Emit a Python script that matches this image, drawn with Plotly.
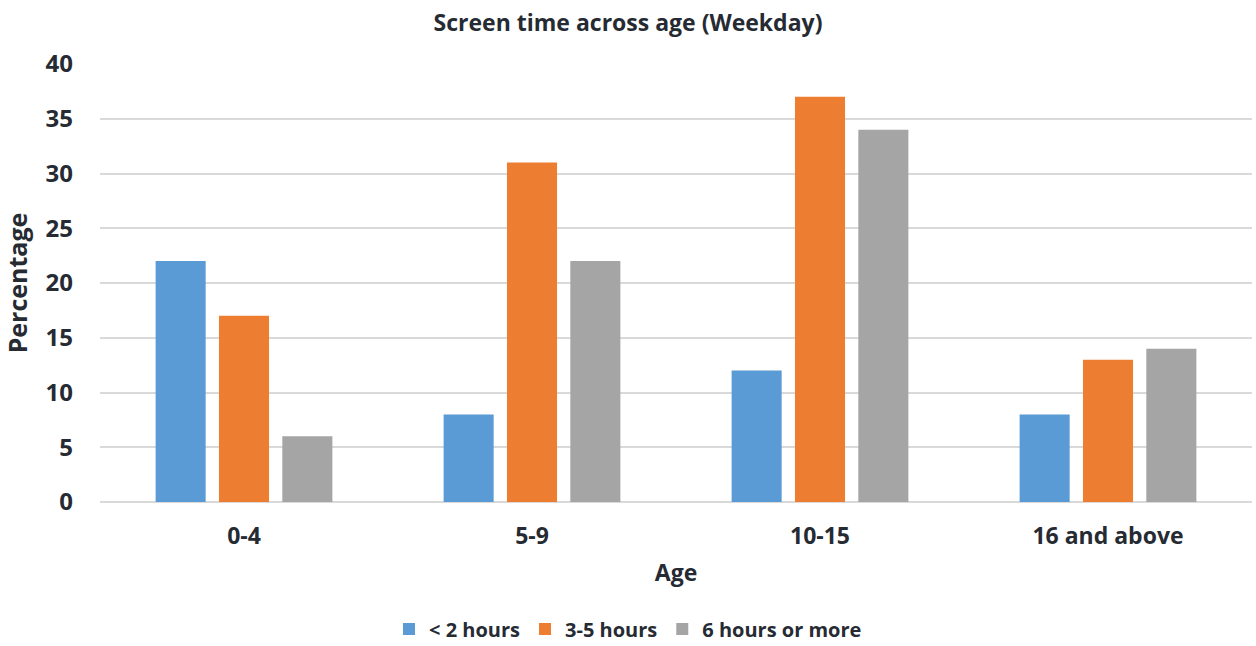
import plotly.graph_objects as go

age_groups = ["0-4", "5-9", "10-15", "16 and above"]
under_2h = [22, 8, 12, 8]
h3_to_5 = [17, 31, 37, 13]
h6_plus = [6, 22, 34, 14]

series = [
    ("< 2 hours", under_2h, "#5B9BD5"),
    ("3-5 hours", h3_to_5, "#ED7D31"),
    ("6 hours or more", h6_plus, "#A5A5A5"),
]

text_color = "#262B33"
font_family = "Open Sans, Lato, sans-serif"

fig = go.Figure()
for name, vals, color in series:
    fig.add_trace(go.Bar(
        x=age_groups, y=vals, name=name,
        marker=dict(color=color, line=dict(width=0)),
    ))

fig.update_layout(
    width=1256, height=646,
    margin=dict(l=100, r=4, t=64, b=144, autoexpand=False),
    paper_bgcolor="white", plot_bgcolor="white",
    barmode="group", bargap=0.34, bargroupgap=0.21,
    font=dict(family=font_family, color=text_color),
    title=dict(
        text="<b>Screen time across age (Weekday)</b>",
        x=0.5, xanchor="center", y=0.965, yanchor="middle",
        font=dict(size=23, color=text_color),
    ),
    xaxis=dict(
        title=dict(text="<b>Age</b>", font=dict(size=23), standoff=14),
        tickfont=dict(size=23, weight="bold"),
        showgrid=False, showline=False, ticks="", ticklabelstandoff=18,
        automargin=False,
    ),
    yaxis=dict(
        title=dict(text="<b>Percentage</b>", font=dict(size=25), standoff=12),
        range=[0, 40], dtick=5,
        tickfont=dict(size=24, weight="bold"),
        showgrid=True, gridcolor="#D9D9D9", gridwidth=1.5,
        zeroline=True, zerolinecolor="#D9D9D9", zerolinewidth=1.5,
        showline=False, ticks="", ticklabelstandoff=26,
        automargin=False,
    ),
    legend=dict(
        orientation="h", xref="container", x=0.5, xanchor="center",
        y=-0.29, yanchor="middle",
        font=dict(size=20, weight="bold"), itemwidth=30,
        traceorder="normal", bgcolor="rgba(0,0,0,0)",
    ),
)

fig.write_html("out.html")
